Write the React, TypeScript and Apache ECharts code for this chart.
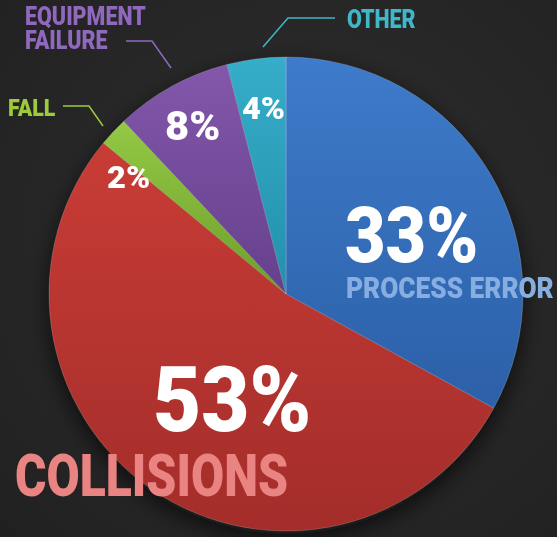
import React, { useEffect, useRef } from "react";
import * as echarts from "echarts";

// ---- data ----
const categories = ["PROCESS ERROR", "COLLISIONS", "FALL", "EQUIPMENT FAILURE", "OTHER"];
const values = [33, 53, 2, 8, 4];
const topColors = ["#3e7bca", "#c93c36", "#93c945", "#8357ab", "#36adc9"];
const bottomColors = ["#2c60a8", "#a32d2a", "#6e9e2b", "#65408c", "#2290ab"];
const nameColors = ["#86aee0", "#ea8482", "#9dcb3d", "#9069bf", "#3fb7c9"];

const FONT = "Roboto, 'DejaVu Sans', sans-serif";

function txt(text: string, x: number, y: number, size: number, fill: string, sx: number) {
  return {
    type: "text",
    x,
    y,
    scaleX: sx,
    silent: true,
    z: 100,
    style: {
      text,
      fill,
      fontFamily: FONT,
      fontWeight: 900,
      fontSize: size,
      align: "left",
      verticalAlign: "middle",
    },
  };
}

function guide(points: number[][], color: string) {
  return {
    type: "polyline",
    silent: true,
    z: 100,
    shape: { points },
    style: { stroke: color, lineWidth: 1.5, fill: "none" },
  };
}

const pct = (i: number) => values[i] + "%";

export default function App() {
  const ref = useRef<HTMLDivElement>(null);
  useEffect(() => {
    if (!ref.current) return;
    const chart = echarts.init(ref.current, undefined, { renderer: "svg" });
    const data = categories.map((name, i) => ({
      name,
      value: values[i],
      itemStyle: {
        color: new echarts.graphic.LinearGradient(0, 0, 0, 1, [
          { offset: 0, color: topColors[i] },
          { offset: 1, color: bottomColors[i] },
        ]),
      },
    }));
    chart.setOption({
      animation: false,
      backgroundColor: {
        type: "radial",
        x: 0.55,
        y: 0.45,
        r: 0.8,
        colorStops: [
          { offset: 0, color: "#2f2f2f" },
          { offset: 1, color: "#202020" },
        ],
      },
      series: [
        {
          type: "pie",
          silent: true,
          center: [286, 298],
          radius: 236,
          startAngle: 90,
          label: { show: false },
          labelLine: { show: false },
          itemStyle: {
            color: "#1a1a1a",
            shadowBlur: 24,
            shadowColor: "rgba(0,0,0,0.75)",
            shadowOffsetY: 4,
          },
          data: [{ value: 1, name: "shadow" }],
        },
        {
          type: "pie",
          center: [286, 294],
          radius: 237,
          startAngle: 90,
          clockwise: true,
          label: { show: false },
          labelLine: { show: false },
          itemStyle: { borderColor: "rgba(255,255,255,0.18)", borderWidth: 1 },
          emphasis: { disabled: true },
          data,
        },
      ],
      graphic: [
        txt(pct(0), 345, 236, 77, "#ffffff", 0.91),
        txt(categories[0], 346, 288, 30, nameColors[0], 0.875),
        txt(pct(1), 153, 400, 90, "#ffffff", 0.925),
        txt(categories[1], 15, 476, 59, nameColors[1], 0.815),
        txt(pct(2), 107, 177, 32, "#ffffff", 1.02),
        txt(pct(3), 165, 126, 41, "#ffffff", 1.02),
        txt(pct(4), 242, 109, 31, "#ffffff", 1.05),
        txt(categories[2], 8, 108, 24, nameColors[2], 0.89),
        txt("EQUIPMENT", 25, 16, 25, nameColors[3], 0.86),
        txt("FAILURE", 25, 40, 25, nameColors[3], 0.86),
        txt(categories[4], 347, 19, 25, nameColors[4], 0.86),
        guide([[63, 106], [89, 106], [103, 126]], nameColors[2]),
        guide([[126, 41], [152, 41], [171, 68]], nameColors[3]),
        guide([[335, 18], [288, 18], [263, 47]], nameColors[4]),
      ],
    });
    return () => chart.dispose();
  }, []);
  return (
    <div
      ref={ref}
      style={{ position: "fixed", left: 0, top: 0, width: 557, height: 537 }}
    />
  );
}
